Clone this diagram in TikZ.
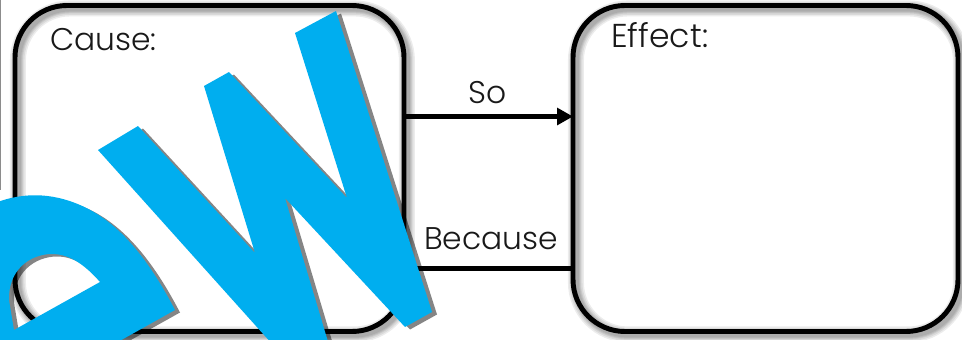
\documentclass[tikz,border=0pt]{standalone}
\usepackage{fontspec}
\setmainfont{Poppins}[UprightFont=*-Light]
\usetikzlibrary{arrows.meta}
\definecolor{wmblue}{HTML}{00AEEF}
\tikzset{
  x=0.75pt,y=-0.75pt,
  shad/.style={preaction={draw=black,opacity=.075,line width=#1*0.75pt,fill=none,transform canvas={shift={(2.2pt,-2.2pt)}}}},
  causebox/.style={draw=black,line width=3.7pt,rounded corners=39pt,inner sep=0pt,outer sep=0pt,
    minimum height=244.5pt,shad=16,shad=13,shad=10,shad=8,shad=6},
  lab/.style={font=\fontsize{23.5pt}{26pt}\selectfont,inner sep=0pt,anchor=base west,text=black!90},
  conn/.style={draw=black,line width=3.4pt},
  tip/.style={-{Triangle[length=12pt,width=12.5pt]}},
  wmshadow/.style={fill=black,fill opacity=.48,even odd rule},
  wmfill/.style={fill=wmblue,even odd rule}
}
\newcommand{\wmW}{(98,150) -- (138,126) -- (255,253) -- (204,86) -- (229,72) -- (347,198) -- (295,33) -- (336,11) -- (432,312) -- (405,327) -- (285,198) -- (332,355) -- (282,355) -- cycle}
\newcommand{\wmP}{(-10,205) .. controls (20,192) and (50,192) .. (80,205) .. controls (120,222) and (150,262) .. (175,310) -- (100,352) -- (-10,352) -- cycle
  (100,282) .. controls (85,265) and (70,254) .. (52,254) .. controls (30,254) and (8,270) .. (9,300) -- (14,330) -- cycle}
\begin{document}
\begin{tikzpicture}
\useasboundingbox (0,0) rectangle (962,339);
\fill[white] (0,0) rectangle (962,339);
\draw[black!45,line width=1pt] (0.5,0) -- (0.5,190);
\node[causebox,minimum width=291.75pt] (cause) at (209.5,168.5) {};
\node[causebox,minimum width=288.75pt] (effect) at (765.5,168.5) {};
\coordinate (soy) at (0,116.5);
\coordinate (becy) at (0,268.5);
\draw[conn,tip] (cause.east |- soy) -- (effect.west |- soy);
\draw[conn] (effect.west |- becy) -- (cause.east |- becy);
\node[lab] (causelab) at (50,50) {Cause:};
\node[lab,font=\fontsize{24.8pt}{26pt}\selectfont] (effectlab) at (611,47) {Effect:};
\node[lab] (solab) at (468,103) {So};
\node[lab] (beclab) at (424,249) {Because};
\begin{scope}
\clip (0,0) rectangle (962,339);
\begin{scope}[shift={(5,2.5)}]
\fill[wmshadow] \wmW;
\fill[wmshadow] \wmP;
\end{scope}
\fill[wmfill] \wmW;
\fill[wmfill] \wmP;
\end{scope}
\end{tikzpicture}
\end{document}
